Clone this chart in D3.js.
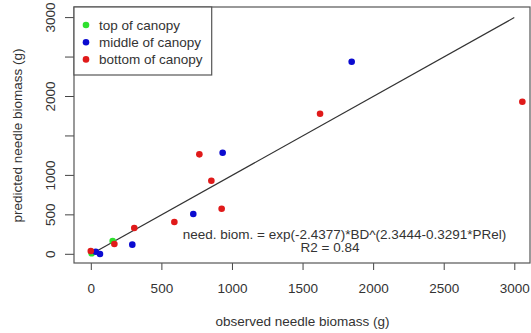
<!DOCTYPE html>
<html><head><meta charset="utf-8">
<script src="https://cdn.jsdelivr.net/npm/d3@7"></script>
<style>body{margin:0;background:#fff}svg{display:block}text{font-family:"Liberation Sans",Arial,sans-serif;fill:#333}</style>
</head><body><svg id="c" width="531" height="333"></svg>
<script>
const groups = ["top of canopy","middle of canopy","bottom of canopy"];
const groupColors = ["#2ee02e","#0b0bd0","#e01a1a"];
const observed  = [6, 155, 35, 65, 294, 726, 934, 1848, 0, 167, 308, 592, 854, 927, 769, 1624, 3057];
const predicted = [13, 169, 33, 4, 122, 511, 1288, 2441, 42, 131, 333, 409, 933, 578, 1267, 1782, 1934];
const group     = [0, 0, 1, 1, 1, 1, 1, 1, 2, 2, 2, 2, 2, 2, 2, 2, 2];
const xTicks = [0,500,1000,1500,2000,2500,3000];
const yTicks = [0,500,1000,1500,2000,2500,3000];
const yLabelTicks = [0,500,1000,2000,3000];
const lineX = [30,3000];
const equation = "need. biom. = exp(-2.4377)*BD^(2.3444-0.3291*PRel)";
const r2 = "R2 = 0.84";

const FS = 13.5;
const svg = d3.select("#c");
const L=74,T=7,R=530,B=263;
const x = d3.scaleLinear().domain([0,3000]).range([90.8,514.3]);
const y = d3.scaleLinear().domain([0,3000]).range([254.3,17.6]);

// x axis
const xa = svg.append("g").attr("transform",`translate(0,${B})`)
  .call(d3.axisBottom(x).tickValues(xTicks).tickSize(7).tickPadding(13.4).tickFormat(d3.format("d")));
xa.select(".domain").remove();
xa.selectAll("line").attr("stroke","#444");
xa.selectAll("text").attr("font-size",FS).style("fill","#333");

const ya = svg.append("g").attr("transform",`translate(${L},0)`)
  .call(d3.axisLeft(y).tickValues(yTicks).tickSize(9).tickFormat(d=>yLabelTicks.includes(d)?d:""));
ya.select(".domain").remove();
ya.selectAll(".tick").attr("transform","translate(0,0)");
ya.selectAll(".tick line").attr("stroke","#444").attr("transform",d=>`translate(0,${y(d)})`);
ya.selectAll("text").attr("font-size",FS).style("fill","#333")
  .attr("transform",d=>`translate(-24,${y(d)}) rotate(-90)`)
  .attr("x",0).attr("dy",0).attr("y",0).attr("text-anchor","middle")
  .attr("dominant-baseline","central");

// box
svg.append("rect").attr("x",L).attr("y",T).attr("width",R-L).attr("height",B-T)
  .attr("fill","none").attr("stroke","#555").attr("stroke-width",1.2);

// 1:1 line
svg.append("line").attr("x1",x(lineX[0])).attr("y1",y(lineX[0])).attr("x2",x(lineX[1])).attr("y2",y(lineX[1]))
  .attr("stroke","#333").attr("stroke-width",1.2);

// points
svg.append("g").selectAll("circle").data(observed.map((o,i)=>({o,p:predicted[i],g:group[i]})))
  .join("circle").attr("cx",d=>x(d.o)).attr("cy",d=>y(d.p)).attr("r",3.3)
  .attr("fill",d=>groupColors[d.g]);

// legend
svg.append("rect").attr("x",L).attr("y",T).attr("width",137.7).attr("height",68)
  .attr("fill","#fff").attr("stroke","#555").attr("stroke-width",1.2);
groups.forEach((g,i)=>{
  const yy = 25 + i*17.2;
  svg.append("circle").attr("cx",86).attr("cy",yy).attr("r",3.3).attr("fill",groupColors[i]);
  svg.append("text").attr("x",99).attr("y",yy).attr("dy","0.35em").attr("font-size",FS).text(g);
});

// annotation
svg.append("text").attr("x",344.5).attr("y",238.5).attr("text-anchor","middle").attr("font-size",FS).text(equation);
svg.append("text").attr("x",330).attr("y",251.7).attr("text-anchor","middle").attr("font-size",FS).text(r2);

// titles
svg.append("text").attr("x",302.5).attr("y",326).attr("text-anchor","middle").attr("font-size",FS).text("observed needle biomass (g)");
svg.append("text").attr("transform","translate(21.5,135.5) rotate(-90)").attr("text-anchor","middle").attr("font-size",FS).text("predicted needle biomass (g)");
</script></body></html>
